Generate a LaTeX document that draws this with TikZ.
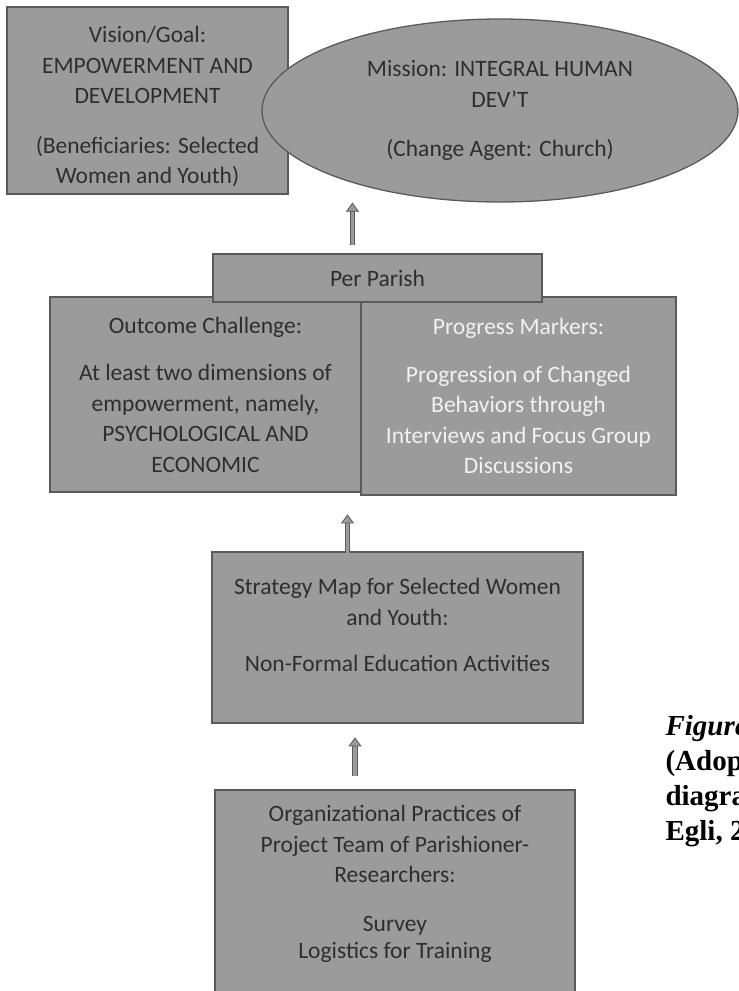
\documentclass[tikz,border=0pt]{standalone}
\usepackage{fontspec}
\setmainfont{Carlito}
\newfontfamily\capfont{Liberation Serif}
\usetikzlibrary{arrows.meta, shapes.geometric, positioning}
\definecolor{boxfill}{HTML}{9B9B9B}
\definecolor{boxline}{HTML}{5A5A5A}
\definecolor{boxtext}{HTML}{2E2E2E}
\definecolor{marktext}{HTML}{F2F2F2}

\begin{document}
\begin{tikzpicture}[
  x=1pt, y=-1pt,
  box/.style={rectangle, draw=boxline, fill=boxfill, line width=1.3pt,
    inner sep=0pt, align=center, text=boxtext,
    font=\fontsize{23.5}{30.5}\selectfont},
  oval/.style={box, ellipse},
  uparrow/.style={draw=boxline, line width=0.8pt, double=boxfill,
    double distance=3.5pt, -{Triangle[length=9pt, width=13pt, fill=boxfill]}},
  figcaption/.style={anchor=base west, align=left, text=black,
    font=\capfont\bfseries\fontsize{29}{35}\selectfont}
  ]
  % page size of the reference
  \useasboundingbox[fill=white] (0,0) rectangle (739,991);
  \clip (0,0) rectangle (739,991);

  %% top: goal and mission
  \node[box, minimum width=281, minimum height=187] (vision) at (147.5,100.5)
    {\mbox{}\\[-1.5pt]Vision/Goal:\\EMPOWERMENT AND\\DEVELOPMENT\\[19pt]
     (Beneficiaries: Selected\\Women and Youth)};
  \node[oval, minimum width=476, minimum height=183] (mission) at (500,110.5)
    {Mission: INTEGRAL HUMAN\\DEV'T\\[19pt](Change Agent: Church)};

  %% middle: per parish
  \node[box, minimum width=311, minimum height=195] (outcome) at (205.5,394.5)
    {Outcome Challenge:\\[17pt]
     At least two dimensions of\\empowerment, namely,\\
     PSYCHOLOGICAL AND\\ECONOMIC};
  \node[box, minimum width=315, minimum height=198, text=marktext] (progress) at (518.5,396)
    {Progress Markers:\\[17pt]
     Progression of Changed\\Behaviors through\\
     Interviews and Focus Group\\Discussions};
  \node[box, minimum width=329, minimum height=48] (parish) at (377.5,278) {Per Parish};

  %% lower boxes
  \node[box, minimum width=371, minimum height=171] (strategy) at (397.5,637.5)
    {Strategy Map for Selected Women\\and Youth:\\[16pt]
     Non-Formal Education Activities\\[-6pt]\mbox{}};
  \node[box, minimum width=360, minimum height=240] (org) at (395,910)
    {Organizational Practices of\\Project Team of Parishioner-\\Researchers:\\[18pt]
     Survey\\[-3pt]Logistics for Training\\[25pt]\mbox{}};

  % arrows upward
  \draw[uparrow] ([xshift=-25pt,yshift=8pt]parish.north) -- ([xshift=-25pt]parish.north |- mission.south);
  \draw[uparrow] ([xshift=-50pt,yshift=-2pt]strategy.north) -- ([xshift=-50pt,yshift=37pt]strategy.north);
  \draw[uparrow] ([xshift=-40pt,yshift=13pt]org.north) -- ([xshift=-40pt,yshift=52pt]org.north);

  % figure caption, cut by the page edge (base = last line)
  \node[figcaption] (figcap) at (662,840)
    {\textit{Figure}\\(Adopted\\diagram\\Egli, 20};

\end{tikzpicture}
\end{document}
